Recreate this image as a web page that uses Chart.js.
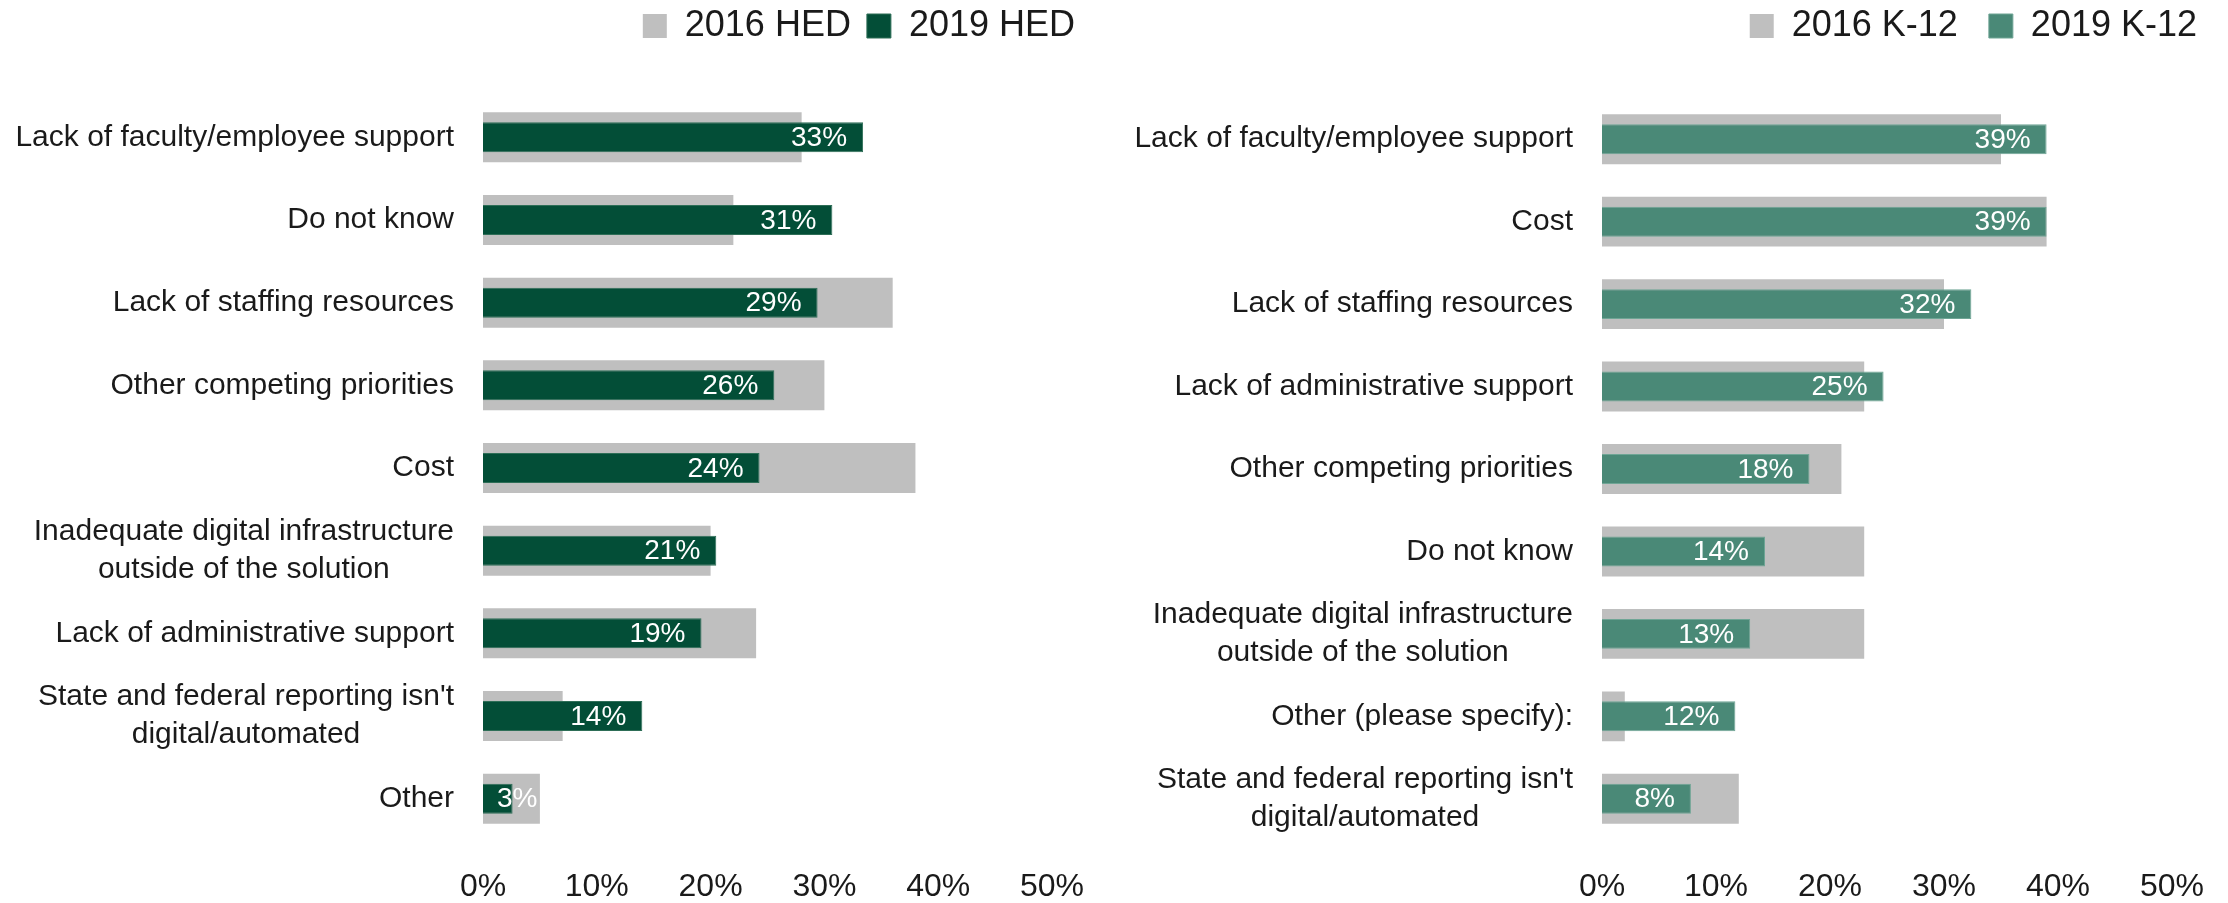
<!DOCTYPE html>
<html><head><meta charset="utf-8">
<script src="https://cdn.jsdelivr.net/npm/chart.js@4.4.0/dist/chart.umd.min.js"></script>
<style>
html,body{margin:0;padding:0;background:#fff;}
#wrap{display:flex;width:2228px;height:903px;}
.box{position:relative;width:1114px;height:903px;}
</style></head><body>
<div id="wrap"><div class="box"><canvas id="hed"></canvas></div><div class="box"><canvas id="k12"></canvas></div></div>
<script>
// ---- data ----
const hedCategories = [
  'Lack of faculty/employee support',
  'Do not know',
  'Lack of staffing resources',
  'Other competing priorities',
  'Cost',
  ['Inadequate digital infrastructure', 'outside of the solution'],
  'Lack of administrative support',
  ["State and federal reporting isn't", 'digital/automated'],
  'Other'
];
const hed2016 = [28, 22, 36, 30, 38, 20, 24, 7, 5];
const hed2019 = [33.4, 30.7, 29.4, 25.6, 24.3, 20.5, 19.2, 14.0, 2.6];
const hedSeriesNames = ['2016 HED', '2019 HED'];

const k12Categories = [
  'Lack of faculty/employee support',
  'Cost',
  'Lack of staffing resources',
  'Lack of administrative support',
  'Other competing priorities',
  'Do not know',
  ['Inadequate digital infrastructure', 'outside of the solution'],
  'Other (please specify):',
  ["State and federal reporting isn't", 'digital/automated']
];
const k122016 = [35, 39, 30, 23, 21, 23, 23, 2, 12];
const k122019 = [39.0, 39.0, 32.4, 24.7, 18.2, 14.3, 13.0, 11.7, 7.8];
const k12SeriesNames = ['2016 K-12', '2019 K-12'];

const xTickValues = [0, 10, 20, 30, 40, 50];

// ---- styling ----
const FONT = "'Liberation Sans', Arial, sans-serif";
const TEXT = '#1a1a1a';
const GRAY = '#BFBFBF';

const barLabels = {
  id: 'barLabels',
  afterDatasetsDraw(chart) {
    const meta = chart.getDatasetMeta(1);
    const vals = chart.data.datasets[1].data;
    const ctx = chart.ctx;
    ctx.save();
    ctx.font = '28px ' + FONT;
    ctx.fillStyle = '#ffffff';
    ctx.textBaseline = 'middle';
    ctx.textAlign = 'left';
    meta.data.forEach((bar, i) => {
      const txt = Math.round(vals[i]) + '%';
      const w = ctx.measureText(txt).width;
      const x = Math.max(bar.x - 16 - w, bar.base + 14);
      ctx.fillText(txt, x, bar.y + 1);
    });
    ctx.restore();
  }
};

const catLabels = {
  id: 'catLabels',
  afterDraw(chart) {
    const ys = chart.scales.y;
    const ctx = chart.ctx;
    ctx.save();
    ctx.font = '30px ' + FONT;
    ctx.fillStyle = TEXT;
    ctx.textBaseline = 'middle';
    ctx.textAlign = 'center';
    const right = chart.chartArea.left - 29;
    chart.data.labels.forEach((lab, i) => {
      const lines = Array.isArray(lab) ? lab : [lab];
      const bw = Math.max(...lines.map(l => ctx.measureText(l).width));
      const cx = right - bw / 2;
      const cy = ys.getPixelForTick(i);
      lines.forEach((l, j) => {
        ctx.fillText(l, cx, cy + (j - (lines.length - 1) / 2) * 38);
      });
    });
    ctx.restore();
  }
};

function legendHeight(h) {
  return {
    id: 'legendHeight',
    beforeInit(chart) {
      const orig = chart.legend.fit;
      chart.legend.fit = function () { orig.call(this); this.height = h; };
    }
  };
}

function makeChart(id, cats, v16, v19, names, green, greenBorder, o) {
  return new Chart(document.getElementById(id), {
    type: 'bar',
    data: {
      labels: cats,
      datasets: [
        { label: names[0], data: v16, backgroundColor: GRAY, borderWidth: 0,
          barPercentage: 0.605, categoryPercentage: 1, grouped: false, order: 2 },
        { label: names[1], data: v19, backgroundColor: green, borderColor: greenBorder, borderWidth: 1,
          barPercentage: 0.363, categoryPercentage: 1, grouped: false, order: 1 }
      ]
    },
    options: {
      indexAxis: 'y',
      responsive: true,
      maintainAspectRatio: false,
      animation: false,
      layout: { padding: { top: o.padTop, right: o.padRight, bottom: 0, left: 0 } },
      scales: {
        x: {
          min: xTickValues[0], max: xTickValues[xTickValues.length - 1],
          afterBuildTicks: s => { s.ticks = xTickValues.map(v => ({ value: v })); },
          ticks: { callback: v => v + '%', font: { family: FONT, size: 32 }, color: TEXT, padding: 28, maxRotation: 0 },
          grid: { display: false, drawTicks: false },
          border: { display: false },
          afterFit: s => { s.height = 63; s.paddingRight = o.areaRight; }
        },
        y: {
          ticks: { display: false },
          grid: { display: false, drawTicks: false },
          border: { display: false },
          afterFit: s => { s.width = o.areaLeft; }
        }
      },
      plugins: {
        legend: {
          position: 'top', align: 'end',
          labels: { boxWidth: 24, boxHeight: 24, padding: o.legPad, color: TEXT,
            font: { family: FONT, size: 36 },
            sort: (a, b) => a.datasetIndex - b.datasetIndex }
        },
        tooltip: { enabled: false }
      }
    },
    plugins: [legendHeight(o.top - o.padTop), barLabels, catLabels]
  });
}

makeChart('hed', hedCategories, hed2016, hed2019, hedSeriesNames, '#034E37', '#2E6E57',
  { padTop: -8, legPad: 16, padRight: 23, areaRight: 62, areaLeft: 483, top: 96 });
makeChart('k12', k12Categories, k122016, k122019, k12SeriesNames, '#4A8977', '#6FA595',
  { padTop: -23, legPad: 31, padRight: 0, areaRight: 56, areaLeft: 488, top: 98 });
</script>
</body></html>
